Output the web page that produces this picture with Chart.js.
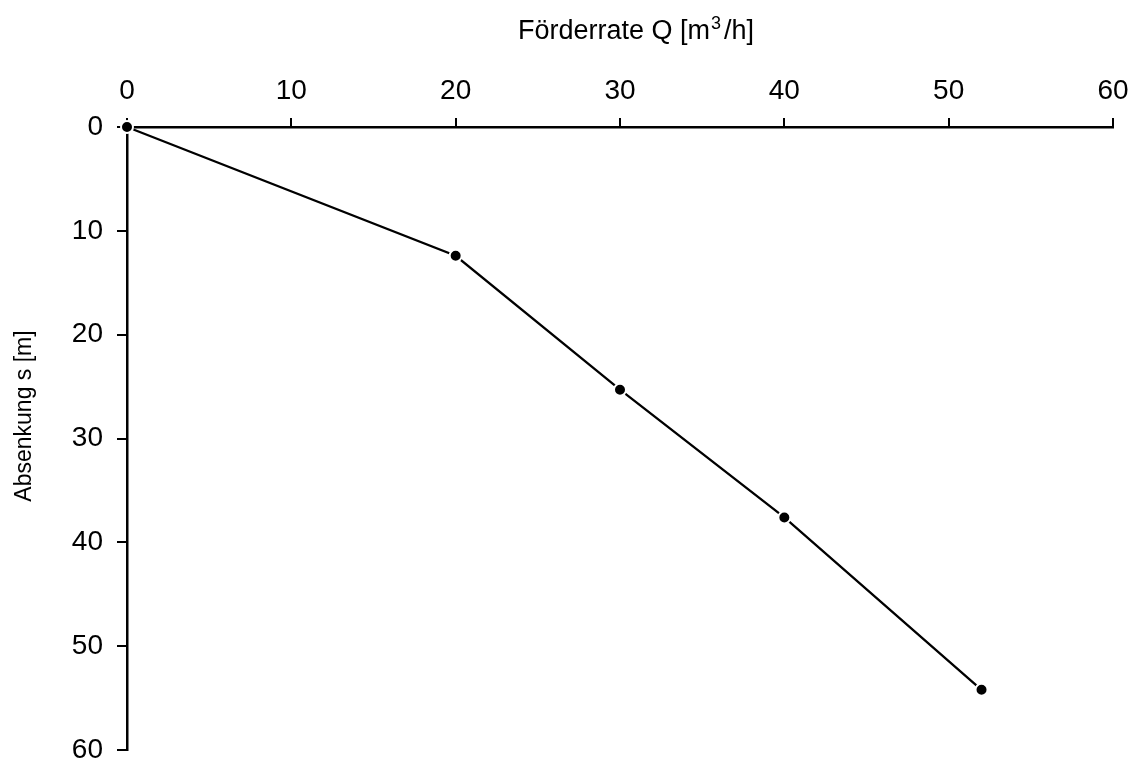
<!DOCTYPE html>
<html>
<head>
<meta charset="utf-8">
<script src="https://cdn.jsdelivr.net/npm/chart.js@4"></script>
<style>
  html, body { margin: 0; padding: 0; background: #fff; }
  #c { display: block; }
</style>
</head>
<body>
<canvas id="c" width="1135" height="764"></canvas>
<script>
// Data
const foerderrate = [0, 20, 30, 40, 52];          // Q [m3/h]
const absenkung   = [0, 12.4, 25.3, 37.6, 54.2];  // s [m]
const xTickValues = [0, 10, 20, 30, 40, 50, 60];
const yTickValues = [0, 10, 20, 30, 40, 50, 60];
const xTitleParts = ["Förderrate Q [m", "3", "/h]"];
const yTitle = "Absenkung s [m]";

const FONT = "'Liberation Sans', Arial, sans-serif";

const titlePlugin = {
  id: 'axisTitles',
  afterDraw(chart) {
    const ctx = chart.ctx;
    ctx.save();
    ctx.fillStyle = '#000';
    // X title with superscript
    const mainFont = '27px ' + FONT;
    const supFont = '18px ' + FONT;
    ctx.font = mainFont;
    const w1 = ctx.measureText(xTitleParts[0]).width;
    const w3 = ctx.measureText(xTitleParts[2]).width;
    ctx.font = supFont;
    const w2 = ctx.measureText(xTitleParts[1]).width + 4;
    const total = w1 + w2 + w3;
    const cx = 636, baseY = 39;
    let x = cx - total / 2;
    ctx.textBaseline = 'alphabetic';
    ctx.textAlign = 'left';
    ctx.font = mainFont;
    ctx.fillText(xTitleParts[0], x, baseY);
    x += w1;
    ctx.font = supFont;
    ctx.fillText(xTitleParts[1], x + 1, baseY - 10);
    x += w2;
    ctx.font = mainFont;
    ctx.fillText(xTitleParts[2], x, baseY);
    // Y title rotated
    ctx.translate(25, 416);
    ctx.rotate(-Math.PI / 2);
    ctx.textAlign = 'center';
    ctx.textBaseline = 'middle';
    ctx.font = '23px ' + FONT;
    ctx.fillText(yTitle, 0, 0);
    ctx.restore();
  }
};

new Chart(document.getElementById('c'), {
  type: 'line',
  data: {
    datasets: [{
      data: foerderrate.map((q, i) => ({ x: q, y: absenkung[i] })),
      borderColor: '#000',
      borderWidth: 2.3,
      pointRadius: 6,
      pointBackgroundColor: '#000',
      pointBorderColor: '#fff',
      pointBorderWidth: 2,
      tension: 0,
      clip: false
    }]
  },
  options: {
    responsive: false,
    animation: false,
    events: [],
    layout: { padding: { left: 0, top: 0, right: 22, bottom: 14 } },
    plugins: { legend: { display: false }, tooltip: { enabled: false }, title: { display: false } },
    scales: {
      x: {
        type: 'linear',
        position: 'top',
        min: 0, max: 60,
        afterBuildTicks: s => { s.ticks = xTickValues.map(v => ({ value: v })); },
        afterFit: s => { s.height = 127; s.paddingLeft = 0; s.paddingRight = 0; },
        ticks: { color: '#000', font: { family: FONT, size: 28 }, padding: 10, maxRotation: 0 },
        grid: { display: true, drawOnChartArea: false, drawTicks: true, tickLength: 9, color: '#000', lineWidth: 2 },
        border: { display: true, color: '#000', width: 2.5 }
      },
      y: {
        type: 'linear',
        reverse: true,
        min: 0, max: 60,
        afterBuildTicks: s => { s.ticks = yTickValues.map(v => ({ value: v })); },
        afterFit: s => { s.width = 127; s.paddingTop = 0; s.paddingBottom = 0; },
        ticks: { color: '#000', font: { family: FONT, size: 28 }, padding: 14 },
        grid: { display: true, drawOnChartArea: false, drawTicks: true, tickLength: 10, color: '#000', lineWidth: 2 },
        border: { display: true, color: '#000', width: 2.5 }
      }
    }
  },
  plugins: [titlePlugin]
});
</script>
</body>
</html>
